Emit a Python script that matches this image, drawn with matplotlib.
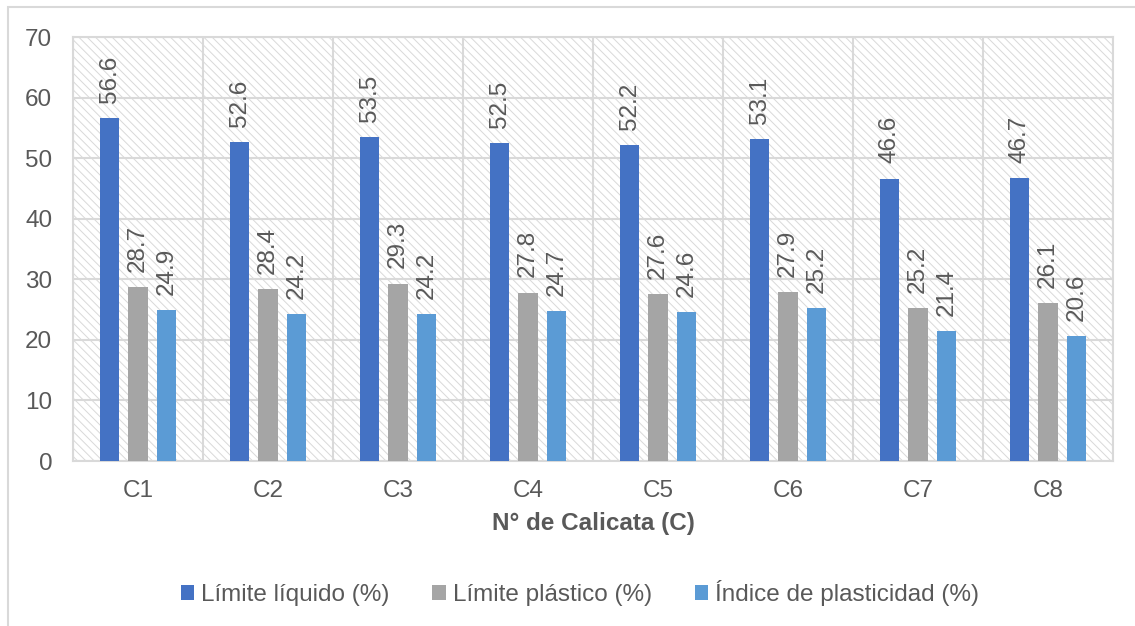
import numpy as np
import matplotlib
matplotlib.use("Agg")
import matplotlib.pyplot as plt
from matplotlib.patches import Rectangle, Patch

plt.rcParams["font.family"] = ["Liberation Sans", "DejaVu Sans"]
plt.rcParams["hatch.linewidth"] = 0.7

calicatas = ["C1", "C2", "C3", "C4", "C5", "C6", "C7", "C8"]
limite_liquido = [56.6, 52.6, 53.5, 52.5, 52.2, 53.1, 46.6, 46.7]
limite_plastico = [28.7, 28.4, 29.3, 27.8, 27.6, 27.9, 25.2, 26.1]
indice_plasticidad = [24.9, 24.2, 24.2, 24.7, 24.6, 25.2, 21.4, 20.6]

series = [
    ("Límite líquido (%)", limite_liquido, "#4472C4"),
    ("Límite plástico (%)", limite_plastico, "#A5A5A5"),
    ("Índice de plasticidad (%)", indice_plasticidad, "#5B9BD5"),
]

txt = "#595959"
grid = "#D9D9D9"
fs = 17.5

fig = plt.figure(figsize=(11.35, 6.26), dpi=100)
fig.patch.set_facecolor("white")

# outer chart frame
fig.add_artist(Rectangle((8 / 1135, -0.1), 1.2, 1.1 - 7 / 626,
                         transform=fig.transFigure, fill=False,
                         edgecolor=grid, linewidth=1.5))

ax = fig.add_axes([73 / 1135, 1 - 461 / 626, 1040 / 1135, 424 / 626])
ax.set_facecolor("white")
ax.add_patch(Rectangle((0, 0), 1, 1, transform=ax.transAxes, facecolor="white",
                       edgecolor=grid, hatch="\\" * 4, linewidth=0, zorder=0))

x = np.arange(len(calicatas))
offsets = [-0.219, 0, 0.219]
width = 0.152

for (name, vals, color), off in zip(series, offsets):
    bars = ax.bar(x + off, vals, width, color=color, zorder=3, label=name)
    for b, v in zip(bars, vals):
        ax.annotate(f"{v:.1f}", (b.get_x() + b.get_width() / 2, v),
                    xytext=(0, 11), textcoords="offset points",
                    rotation=90, ha="center", va="bottom",
                    fontsize=fs, color=txt, zorder=4)

ax.set_xlim(-0.5, len(calicatas) - 0.5)
ax.set_ylim(0, 70)
ax.set_yticks(range(0, 71, 10))
ax.set_xticks(x)
ax.set_xticklabels(calicatas)
ax.set_xticks(np.arange(-0.5, len(calicatas), 1), minor=True)
ax.tick_params(axis="both", which="both", length=0, labelsize=fs, labelcolor=txt)
ax.tick_params(axis="y", pad=15)
ax.tick_params(axis="x", pad=14)
ax.grid(axis="y", which="major", color=grid, linewidth=1.5, zorder=1)
ax.grid(axis="x", which="minor", color=grid, linewidth=1.5, zorder=1)
ax.set_axisbelow(True)
for s in ax.spines.values():
    s.set_color(grid)
    s.set_linewidth(1.5)

ax.set_xlabel("N° de Calicata (C)", fontsize=fs, fontweight="bold", color=txt,
              labelpad=7)

handles = [Patch(facecolor=c, edgecolor="none") for _, _, c in series]
fig.legend(handles, [n for n, _, _ in series], loc="center",
           bbox_to_anchor=(580 / 1135, 1 - 593 / 626), ncol=3, frameon=False,
           fontsize=fs, labelcolor=txt, handlelength=0.55, handleheight=0.55,
           handletextpad=0.3, columnspacing=1.75)

fig.savefig("out.png", dpi=100)
